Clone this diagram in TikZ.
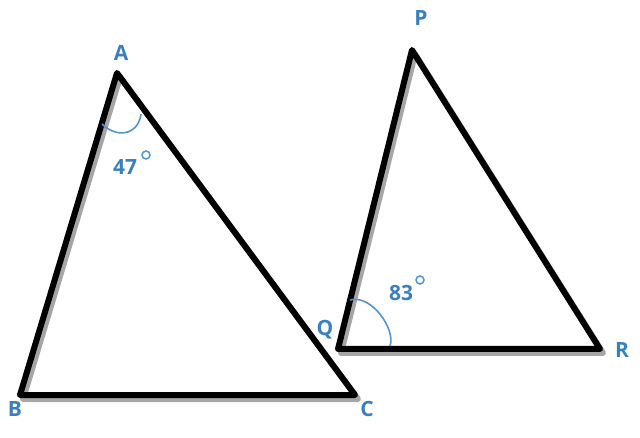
\documentclass[tikz,border=0pt]{standalone}
\usepackage{fontspec}
\setmainfont{Open Sans}
\usetikzlibrary{positioning}
\definecolor{lblue}{RGB}{58,128,192}
\definecolor{abl}{RGB}{80,150,210}
\begin{document}
\begin{tikzpicture}
    [x=1pt, y=-1pt,
    side/.style={line width=6pt, line join=round, line cap=round},
    shade/.style={line width=6pt, line join=round, line cap=round, gray!70},
    lab/.style={text=lblue, font=\bfseries\fontsize{21}{21}\selectfont},
    ang/.style={abl, line width=1.6pt},
    deg/.style={circle, draw=abl, line width=1.5pt, inner sep=0pt, minimum size=8pt}]
     \useasboundingbox (0,0) rectangle (640,438);
     \coordinate (A) at (117, 73);
     \coordinate (B) at (20, 395);
     \coordinate (C) at (355, 395);
     \coordinate (P) at (412, 50);
     \coordinate (Q) at (338, 349);
     \coordinate (R) at (600, 349);
     % shadows
     \draw[shade] ([shift={(3,4)}]A) -- ([shift={(3,4)}]B) -- ([shift={(3,4)}]C) -- cycle;
     \draw[shade] ([shift={(3,4)}]P) -- ([shift={(3,4)}]Q) -- ([shift={(3,4)}]R) -- cycle;
     % triangles
     \draw[side] (A) -- (B) -- (C) -- cycle;
     \draw[side] (P) -- (Q) -- (R) -- cycle;
     % angles
     \draw[ang] (102,124) .. controls (116,138) and (138,136) .. (141,114);
     \draw[ang] (350,300) .. controls (372,294) and (396,330) .. (390,346);
     % labels
     \node[lab] (lA) at (121, 53)  {A};
     \node[lab] (lB) at (15, 409)  {B};
     \node[lab] (lC) at (367, 409) {C};
     \node[lab] (lP) at (421, 18)  {P};
     \node[lab] (lQ) at (325, 330) {Q};
     \node[lab] (lR) at (622, 350) {R};
     \node[lab] (a1) at (125, 167) {47};
     \node[deg] (d1) at (146, 155) {};
     \node[lab] (a2) at (401, 293) {83};
     \node[deg] (d2) at (420, 280) {};
\end{tikzpicture}
\end{document}
